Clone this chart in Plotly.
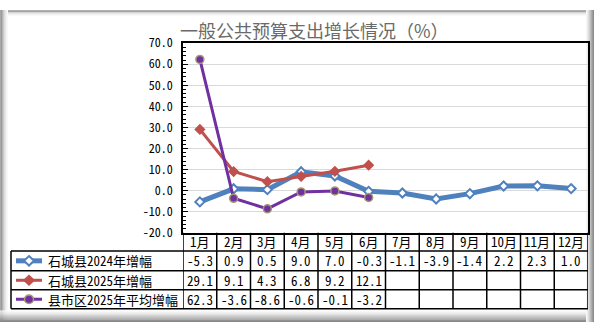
import plotly.graph_objects as go

# ---- data -------------------------------------------------------------
months = ["1月", "2月", "3月", "4月", "5月", "6月",
          "7月", "8月", "9月", "10月", "11月", "12月"]

series_names = ["石城县2024年增幅", "石城县2025年增幅", "县市区2025年平均增幅"]

shicheng_2024 = [-5.3, 0.9, 0.5, 9.0, 7.0, -0.3, -1.1, -3.9, -1.4, 2.2, 2.3, 1.0]
shicheng_2025 = [29.1, 9.1, 4.3, 6.8, 9.2, 12.1]
county_avg_2025 = [62.3, -3.6, -8.6, -0.6, -0.1, -3.2]

y_tick_vals = [-20, -10, 0, 10, 20, 30, 40, 50, 60, 70]
y_tick_text = ["-20.0", "-10.0", "0.0", "10.0", "20.0", "30.0",
               "40.0", "50.0", "60.0", "70.0"]

title_text = "一般公共预算支出增长情况（%）"

# ---- layout constants (pixels) ----------------------------------------
W, H = 594, 329
PLOT_L, PLOT_R, PLOT_T, PLOT_B = 183, 588, 35, 235
TABLE_L = 11
ROW_LINES = [254, 275, 295, 315]          # bottom edges of header / rows
ROW_CENTERS = [244.5, 264.5, 285, 305]

FONT = "Noto Sans CJK SC"
MONO = "Noto Sans Mono CJK SC, DejaVu Sans Mono, Noto Sans CJK SC"
BLUE, RED, PURPLE = "#4F81BD", "#C0504D", "#7030A0"
PURPLE_EDGE = "#A39C72"


def px(x):
    return x / W


def py(y):
    return 1 - y / H


styles = [
    dict(line=dict(color=BLUE, width=5),
         marker=dict(symbol="diamond", size=7, color="white",
                     line=dict(color=BLUE, width=2))),
    dict(line=dict(color=RED, width=3),
         marker=dict(symbol="diamond", size=7, color=RED,
                     line=dict(color=RED, width=1.5))),
    dict(line=dict(color=PURPLE, width=3),
         marker=dict(symbol="circle", size=8, color=PURPLE,
                     line=dict(color=PURPLE_EDGE, width=1.5))),
]
series_values = [shicheng_2024, shicheng_2025, county_avg_2025]

fig = go.Figure()
for name, vals, st in zip(series_names, series_values, styles):
    fig.add_trace(go.Scatter(
        x=months[:len(vals)], y=vals, name=name, mode="lines+markers",
        line=st["line"], marker=st["marker"], showlegend=False,
        hoverinfo="skip"))

shapes = []
annotations = []

# frame bevel / shadow
left_cols = ["#a8a8a8", "#9a9a9a", "#b4b4b4", "#cacaca", "#dcdcdc",
             "#e8e8e8", "#f2f2f2", "#f9f9f9"]
top_cols = ["#b0b0b0", "#a4a4a4", "#c4c4c4", "#dcdcdc", "#ececec", "#f7f7f7"]
right_cols = ["#f6f6f6", "#ececec", "#dedede", "#cfcfcf", "#bebebe",
              "#adadad", "#9c9c9c", "#8c8c8c"]
bottom_cols = ["#fafafa", "#f3f3f3", "#eaeaea", "#e0e0e0", "#d5d5d5",
               "#c9c9c9", "#bdbdbd", "#b1b1b1", "#a5a5a5", "#9a9a9a",
               "#909090", "#888888"]
for i, c in enumerate(top_cols):
    shapes.append(dict(type="rect", xref="paper", yref="paper",
                       x0=px(0), x1=px(W), y0=py(i), y1=py(i + 1),
                       fillcolor=c, line=dict(width=0), layer="below"))
for i, c in enumerate(left_cols):
    shapes.append(dict(type="rect", xref="paper", yref="paper",
                       x0=px(i), x1=px(i + 1), y0=py(0), y1=py(H),
                       fillcolor=c, line=dict(width=0), layer="below"))
for i, c in enumerate(bottom_cols):
    y0 = H - len(bottom_cols) + i
    shapes.append(dict(type="rect", xref="paper", yref="paper",
                       x0=px(0), x1=px(W), y0=py(y0), y1=py(y0 + 1),
                       fillcolor=c, line=dict(width=0), layer="below"))
for i, c in enumerate(right_cols):
    x0 = W - len(right_cols) + i
    shapes.append(dict(type="rect", xref="paper", yref="paper",
                       x0=px(x0), x1=px(x0 + 1), y0=py(0), y1=py(H),
                       fillcolor=c, line=dict(width=0), layer="below"))

# data table grid
LW = 1.5
for yl in ROW_LINES:
    shapes.append(dict(type="line", xref="paper", yref="paper",
                       x0=px(TABLE_L), x1=px(PLOT_R), y0=py(yl), y1=py(yl),
                       line=dict(color="black", width=LW)))
shapes.append(dict(type="line", xref="paper", yref="paper",
                   x0=px(TABLE_L), x1=px(TABLE_L),
                   y0=py(ROW_LINES[0]), y1=py(ROW_LINES[-1]),
                   line=dict(color="black", width=LW)))
for i in range(len(months) + 1):
    shapes.append(dict(type="line", xref="x", yref="paper",
                       x0=i - 0.5, x1=i - 0.5,
                       y0=py(PLOT_B), y1=py(ROW_LINES[-1]),
                       line=dict(color="black", width=LW)))

# header and values
cell_font = dict(family=MONO, size=13, color="black")
for i, m in enumerate(months):
    annotations.append(dict(x=i, y=py(ROW_CENTERS[0]), xref="x", yref="paper",
                            text=m, showarrow=False, font=cell_font,
                            xanchor="center", yanchor="middle"))
for r, vals in enumerate(series_values):
    for i, v in enumerate(vals):
        annotations.append(dict(x=i, y=py(ROW_CENTERS[r + 1]), xref="x",
                                yref="paper", text=f"{v:.1f}",
                                showarrow=False, font=cell_font,
                                xanchor="center", yanchor="middle"))

# legend keys in the table's first column
KEY_X0, KEY_X1, KEY_C, TEXT_X = 16, 42, 29, 46
for r, (name, st) in enumerate(zip(series_names, styles)):
    yc = ROW_CENTERS[r + 1]
    shapes.append(dict(type="line", xref="paper", yref="paper",
                       x0=px(KEY_X0), x1=px(KEY_X1), y0=py(yc), y1=py(yc),
                       line=dict(color=st["line"]["color"],
                                 width=st["line"]["width"])))
    mk = st["marker"]
    if mk["symbol"] == "diamond":
        r_ = 5
        path = (f"M {px(KEY_C)},{py(yc - r_)} L {px(KEY_C + r_)},{py(yc)} "
                f"L {px(KEY_C)},{py(yc + r_)} L {px(KEY_C - r_)},{py(yc)} Z")
        shapes.append(dict(type="path", xref="paper", yref="paper", path=path,
                           fillcolor=mk["color"],
                           line=dict(color=mk["line"]["color"],
                                     width=mk["line"]["width"])))
    else:
        r_ = 4.5
        shapes.append(dict(type="circle", xref="paper", yref="paper",
                           x0=px(KEY_C - r_), x1=px(KEY_C + r_),
                           y0=py(yc - r_), y1=py(yc + r_),
                           fillcolor=mk["color"],
                           line=dict(color=mk["line"]["color"],
                                     width=mk["line"]["width"])))
    annotations.append(dict(x=px(TEXT_X), y=py(yc), xref="paper", yref="paper",
                            text=name, showarrow=False, font=cell_font,
                            xanchor="left", yanchor="middle"))

# chart title
annotations.append(dict(x=px(314), y=py(21), xref="paper", yref="paper",
                        text=title_text, showarrow=False,
                        font=dict(family=FONT, size=18, color="#6a6a6a"),
                        xanchor="center", yanchor="middle"))

fig.update_layout(
    width=W, height=H,
    margin=dict(l=0, r=0, t=0, b=0),
    paper_bgcolor="white", plot_bgcolor="white",
    shapes=shapes, annotations=annotations,
    xaxis=dict(domain=[px(PLOT_L), px(PLOT_R)], type="category",
               categoryorder="array", categoryarray=months,
               range=[-0.5, len(months) - 0.5],
               showticklabels=False, ticks="", showgrid=False, zeroline=False,
               showline=True, linecolor="black", linewidth=1.5, mirror=True),
    yaxis=dict(domain=[py(PLOT_B), py(PLOT_T)], range=[-20, 70],
               tickvals=y_tick_vals, ticktext=y_tick_text,
               showgrid=True, gridcolor="#D9D9D9", gridwidth=1, zeroline=False,
               showline=True, linecolor="black", linewidth=1.5, mirror=True,
               ticks="inside", ticklen=5, tickcolor="black", tickwidth=1,
               minor=dict(tick0=0, dtick=2, ticks="inside", ticklen=3,
                          tickcolor="black", showgrid=False),
               ticklabelstandoff=6,
               tickfont=dict(family=MONO, size=12, color="black")),
)

fig.write_html("out.html", config={"displayModeBar": False})
